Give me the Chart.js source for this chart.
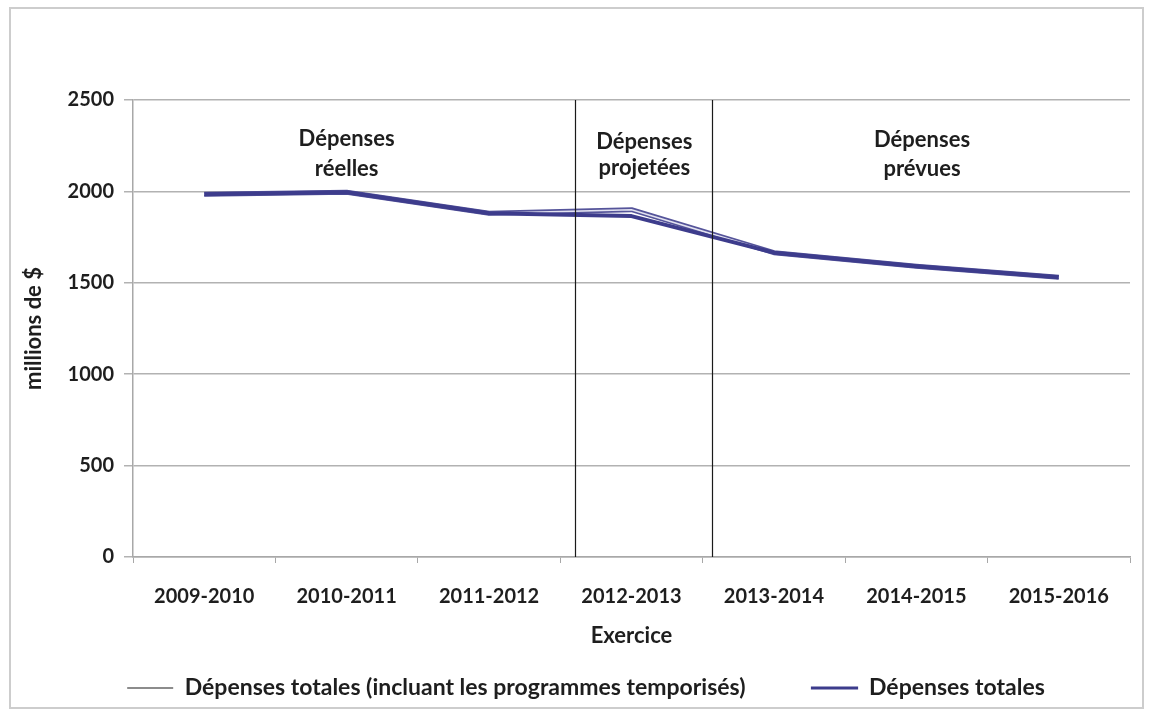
<!DOCTYPE html>
<html>
<head>
<meta charset="utf-8">
<script src="https://cdn.jsdelivr.net/npm/chart.js@4/dist/chart.umd.min.js"></script>
<style>
  html, body { margin: 0; padding: 0; background: #ffffff; }
  #wrap { position: relative; width: 1152px; height: 711px; }
</style>
</head>
<body>
<div id="wrap"><canvas id="c" width="1152" height="711"></canvas></div>
<script>
// ---- data ----
const categories = ['2009-2010', '2010-2011', '2011-2012', '2012-2013', '2013-2014', '2014-2015', '2015-2016'];
const seriesNames = ['Dépenses totales (incluant les programmes temporisés)', 'Dépenses totales'];
const totalInclTemporary = [1985, 1995, 1880, 1900, 1665, 1590, 1530];
const totalSpending = [1985, 1995, 1880, 1865, 1665, 1590, 1530];
const yTickValues = [0, 500, 1000, 1500, 2000, 2500];
const yAxisTitle = 'millions de $';
const xAxisTitle = 'Exercice';
const periodLabels = [['Dépenses', 'réelles'], ['Dépenses', 'projetées'], ['Dépenses', 'prévues']];

// ---- styling / placement ----
const FAMILY = 'Lato, "Open Sans", sans-serif';
const TICK_FONT = { family: FAMILY, size: 20, weight: 'bold' };
const TEXT_FONT = { family: FAMILY, size: 22, weight: 'bold' };
const LEGEND_FONT = { family: FAMILY, size: 23, weight: 'bold' };
const TEXT_COLOR = '#1e1e1e';
const GRID_COLOR = '#b2b2b2';
const THICK_COLOR = '#3d3c8c';
const THIN_OUTLINE = '#55549a';
const THIN_INNER = '#e2e2f0';
const periodTextPos = [ { x: 1.0, y1: 2287, y2: 2125 }, { x: 3.09, y1: 2272, y2: 2130 }, { x: 5.04, y1: 2282, y2: 2124 } ];
const separatorsAt = [2.605, 3.567];

const framePlugin = {
  id: 'frame',
  beforeDraw(chart) {
    const ctx = chart.ctx;
    ctx.save();
    ctx.fillStyle = '#ffffff';
    ctx.fillRect(0, 0, chart.width, chart.height);
    ctx.strokeStyle = '#cdcdcd';
    ctx.lineWidth = 2;
    ctx.strokeRect(10, 8, 1133, 700);
    ctx.restore();
  }
};

const outlinePlugin = {
  id: 'outline',
  beforeDatasetDraw(chart, args) {
    if (args.index !== 0) return;
    const pts = args.meta.data;
    const ctx = chart.ctx;
    ctx.save();
    ctx.strokeStyle = THIN_OUTLINE;
    ctx.lineWidth = 5;
    ctx.lineJoin = 'round';
    ctx.beginPath();
    pts.forEach((p, i) => { if (i === 0) ctx.moveTo(p.x, p.y); else ctx.lineTo(p.x, p.y); });
    ctx.stroke();
    ctx.restore();
  }
};

const annotPlugin = {
  id: 'annot',
  afterDatasetsDraw(chart) {
    const ctx = chart.ctx;
    const xs = chart.scales.x, ys = chart.scales.y;
    ctx.save();
    ctx.strokeStyle = '#1a1a1a';
    ctx.lineWidth = 1.2;
    separatorsAt.forEach(v => {
      const px = Math.round(xs.getPixelForValue(v)) + 0.5;
      ctx.beginPath();
      ctx.moveTo(px, ys.getPixelForValue(2500));
      ctx.lineTo(px, ys.getPixelForValue(0));
      ctx.stroke();
    });
    ctx.fillStyle = TEXT_COLOR;
    ctx.font = `${TEXT_FONT.weight} ${TEXT_FONT.size}px ${TEXT_FONT.family}`;
    ctx.textAlign = 'center';
    ctx.textBaseline = 'middle';
    periodLabels.forEach((lines, i) => {
      const pos = periodTextPos[i];
      const px = xs.getPixelForValue(pos.x);
      ctx.fillText(lines[0], px, ys.getPixelForValue(pos.y1));
      ctx.fillText(lines[1], px, ys.getPixelForValue(pos.y2));
    });
    ctx.restore();
  }
};

new Chart(document.getElementById('c'), {
  type: 'line',
  data: {
    labels: categories,
    datasets: [
      { label: seriesNames[0], data: totalInclTemporary, borderColor: THIN_INNER, borderWidth: 1.6,
        pointRadius: 0, tension: 0, fill: false, order: 1 },
      { label: seriesNames[1], data: totalSpending, borderColor: THICK_COLOR, borderWidth: 4,
        pointRadius: 0, tension: 0, fill: false, order: 0, borderJoinStyle: 'round' }
    ]
  },
  options: {
    responsive: false,
    devicePixelRatio: 1,
    animation: false,
    layout: { padding: { left: 42, right: 22, top: 100, bottom: 1.5 } },
    plugins: {
      tooltip: { enabled: false },
      legend: {
        position: 'bottom',
        labels: {
          font: LEGEND_FONT,
          color: TEXT_COLOR,
          boxWidth: 46,
          boxHeight: 2,
          padding: 66,
          generateLabels: () => [
            { text: seriesNames[0], fillStyle: '#8c8c8c', strokeStyle: '#8c8c8c', lineWidth: 0, datasetIndex: 0, fontColor: TEXT_COLOR },
            { text: seriesNames[1], fillStyle: THICK_COLOR, strokeStyle: THICK_COLOR, lineWidth: 1.2, datasetIndex: 1, fontColor: TEXT_COLOR }
          ]
        }
      }
    },
    scales: {
      x: {
        offset: true,
        afterFit: s => { s.height = 53.5; },
        border: { color: '#a8a8a8', width: 1.5 },
        grid: { offset: true, drawOnChartArea: false, color: '#a8a8a8', tickLength: 6 },
        ticks: { font: TICK_FONT, color: TEXT_COLOR, padding: 22, maxRotation: 0 },
        title: { display: true, text: xAxisTitle, font: TEXT_FONT, color: TEXT_COLOR, padding: { top: 0, bottom: -38.7 } }
      },
      y: {
        min: 0, max: 2500,
        afterBuildTicks: s => { s.ticks = yTickValues.map(v => ({ value: v })); },
        afterFit: s => { s.width = 91; },
        border: { color: '#a8a8a8', width: 1.5 },
        grid: { color: GRID_COLOR, lineWidth: 1.5, tickLength: 9 },
        ticks: { font: TICK_FONT, color: TEXT_COLOR, padding: 10, callback: v => String(v) },
        title: { display: true, text: yAxisTitle, font: TEXT_FONT, color: TEXT_COLOR, padding: { top: -21.2, bottom: 0 } }
      }
    }
  },
  plugins: [framePlugin, outlinePlugin, annotPlugin]
});
</script>
</body>
</html>
